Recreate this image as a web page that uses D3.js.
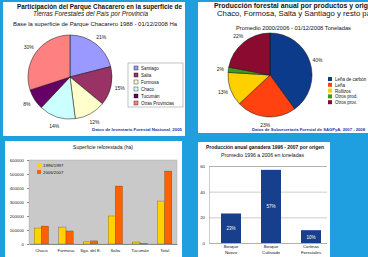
<!DOCTYPE html>
<html>
<head>
<meta charset="utf-8">
<script src="https://cdn.jsdelivr.net/npm/d3@7"></script>
<style>
    html, body { margin: 0; padding: 0; background: #1f9fe0; overflow: hidden; }
    svg { display: block; font-family: "Liberation Sans", Arial, sans-serif; }
</style>
</head>
<body>
<div id="chart"></div>
<script>
'use strict';

// Data - top left pie (provinces)
const provLabels = ['Santiago', 'Salta', 'Formosa', 'Chaco', 'Tucumán', 'Otras Provincias'];
const provValues = [21, 15, 12, 14, 8, 30];

// Data - top right pie (products)
const prodLabels = ['Leña de carbón', 'Leña', 'Rollizos', 'Otros prod.', 'Otros prov.'];
const prodValues = [40, 23, 13, 2, 22];

// Data - bottom left bars
const barCats = ['Chaco', 'Formosa', 'Sgo. del E.', 'Salta', 'Tucumán', 'Total'];
const barSeries = ['1996/1997', '2006/2007'];
const bars1997 = [114000, 121000, 15000, 200000, 14000, 307000];
const bars2007 = [128000, 93000, 22000, 414000, 3000, 521000];

// Data - bottom right bars
const originCats = ['Bosque Nativo', 'Bosque Cultivado', 'Cortinas Forestales'];
const originValues = [23, 57, 10];

const W = 368, H = 257;
const svg = d3.select('#chart').append('svg').attr('width', W).attr('height', H);

// Panels
const panels = [[3, 2, 182, 134], [198, 2, 172, 131], [5, 141, 177, 118], [198, 142, 132, 117]];
svg.selectAll('rect.panel').data(panels).join('rect')
    .attr('class', 'panel')
    .attr('x', d => d[0]).attr('y', d => d[1])
    .attr('width', d => d[2]).attr('height', d => d[3])
    .attr('fill', '#fff');

// small text helper
function txt(x, y, s, size, o = {}) {
    const t = svg.append('text')
        .attr('x', x).attr('y', y)
        .attr('font-size', size)
        .attr('fill', o.fill || '#111')
        .attr('text-anchor', o.anchor || 'start')
        .attr('font-weight', o.bold ? 'bold' : null)
        .attr('font-style', o.italic ? 'italic' : null)
        .text(s);
    if (o.len) t.attr('textLength', o.len).attr('lengthAdjust', 'spacingAndGlyphs');
    return t;
}

// Pie helper
function pie(cx, cy, r, values, colors, labelR) {
    const arcs = d3.pie().sort(null)(values);
    const arc = d3.arc().innerRadius(0).outerRadius(r);
    const lab = d3.arc().innerRadius(labelR).outerRadius(labelR);
    const g = svg.append('g').attr('transform', `translate(${cx},${cy})`);
    g.selectAll('path').data(arcs).join('path')
        .attr('d', arc)
        .attr('fill', (d, i) => colors[i])
        .attr('stroke', '#111')
        .attr('stroke-width', 0.5);
    g.selectAll('text').data(arcs).join('text')
        .attr('x', d => lab.centroid(d)[0])
        .attr('y', d => lab.centroid(d)[1] + 2)
        .attr('text-anchor', 'middle')
        .attr('font-size', 5)
        .attr('fill', '#222')
        .text(d => d.data + '%');
}

// ---- Top left ----
txt(17, 9, 'Participación del Parque Chacarero en la superficie de', 6.5, {bold: true, len: 165});
txt(33, 16, 'Tierras Forestales del País por Provincia', 6.5, {italic: true, len: 115});
txt(13, 26, 'Base la superficie de Parque Chacarero 1988 - 01/12/2008 Ha', 4.5, {len: 164});
const provColors = ['#9999ff', '#993366', '#ffffcc', '#ccffff', '#660066', '#ff8080'];
pie(70, 77, 42, provValues, provColors, 51);

svg.append('rect').attr('x', 128).attr('y', 63).attr('width', 55).attr('height', 44)
    .attr('fill', '#fff').attr('stroke', '#888').attr('stroke-width', 0.5);
provLabels.forEach((l, i) => {
    svg.append('rect').attr('x', 134).attr('y', 66 + i * 7).attr('width', 4).attr('height', 4)
        .attr('fill', provColors[i]).attr('stroke', '#111').attr('stroke-width', 0.4);
    txt(141, 70 + i * 7, l, 4.5);
});
txt(182, 131, 'Datos de Inventario Forestal Nacional, 2005', 4.3, {bold: true, fill: '#2233aa', anchor: 'end', len: 90});

// ---- Top right ----
txt(214, 8, 'Producción forestal anual por productos y origen', 6.5, {bold: true, len: 162});
txt(217, 16, 'Chaco, Formosa, Salta y Santiago y resto país', 6.5, {len: 160});
txt(236, 30, 'Promedio 2000/2006 - 01/12/2008 Toneladas', 4.5, {len: 115});
const prodColors = ['#0d3b8c', '#ff4210', '#ffd000', '#3c9a1e', '#8a0a30'];
pie(270, 75, 42, prodValues, prodColors, 50);
prodLabels.forEach((l, i) => {
    svg.append('rect').attr('x', 328).attr('y', 77 + i * 5.8).attr('width', 4).attr('height', 4)
        .attr('fill', prodColors[i]);
    txt(335, 81 + i * 5.8, l, 4.5);
});
txt(252, 131, 'Datos de Subsecretaría Forestal de SAGPyA, 2007 - 2008', 4.3, {bold: true, fill: '#2233aa', len: 113});

// ---- Bottom left: grouped bars ----
const bx = d3.scaleBand().domain(barCats).range([29, 177]).paddingInner(0.42).paddingOuter(0.21);
const bxs = d3.scaleBand().domain(barSeries).range([0, bx.bandwidth()]);
const by = d3.scaleLinear().domain([0, 600000]).range([244, 160]);

txt(103, 149, 'Superficie reforestada (ha)', 5, {anchor: 'middle', len: 60});
svg.append('rect').attr('x', 29).attr('y', 160).attr('width', 148).attr('height', 84)
    .attr('fill', '#c9c9c9').attr('stroke', '#aaa').attr('stroke-width', 0.5);

svg.append('g').attr('transform', 'translate(29,0)')
    .call(d3.axisLeft(by).ticks(6).tickSize(2).tickFormat(d3.format('d')))
    .call(g => g.select('.domain').remove())
    .call(g => g.selectAll('line').attr('stroke', '#888'))
    .call(g => g.selectAll('text').attr('font-size', 4.3).attr('fill', '#222')
        .attr('font-family', '"Liberation Sans", Arial, sans-serif'));

const seriesData = [bars1997, bars2007];
const barColors = ['#ffd200', '#ff6000'];
seriesData.forEach((vals, s) => {
    svg.append('g').selectAll('rect').data(vals).join('rect')
        .attr('x', (d, i) => bx(barCats[i]) + bxs(barSeries[s]))
        .attr('y', d => by(d))
        .attr('width', bxs.bandwidth())
        .attr('height', d => by(0) - by(d))
        .attr('fill', barColors[s])
        .attr('stroke', '#5a3a00').attr('stroke-width', 0.3);
});

svg.append('g').attr('transform', 'translate(0,244)')
    .call(d3.axisBottom(bx).tickSize(0).tickPadding(5))
    .call(g => g.select('.domain').attr('stroke', '#888'))
    .call(g => g.selectAll('text').attr('font-size', 4.3).attr('fill', '#222')
        .attr('font-family', '"Liberation Sans", Arial, sans-serif'));

barSeries.forEach((l, i) => {
    svg.append('rect').attr('x', 37).attr('y', 163 + i * 7).attr('width', 4).attr('height', 4)
        .attr('fill', barColors[i]);
    txt(43, 167 + i * 7, l, 4.3);
});

// ---- Bottom right: origin bars ----
txt(206, 149, 'Producción anual ganadera 1996 - 2007 por origen', 5.5, {bold: true, len: 118});
txt(221, 157, 'Promedio 1996 a 2006 en toneladas', 4.5, {len: 83});

const ox = d3.scaleBand().domain(originCats).range([211, 331]).paddingInner(0.5).paddingOuter(0.25);
const oy = d3.scaleLinear().domain([0, 60]).range([243, 166]);

svg.append('g').attr('transform', 'translate(209,0)')
    .call(d3.axisLeft(oy).ticks(3).tickSize(-118).tickFormat(d3.format('d')))
    .call(g => g.select('.domain').attr('stroke', '#999').attr('stroke-width', 0.5))
    .call(g => g.selectAll('line').attr('stroke', '#999').attr('stroke-width', 0.5))
    .call(g => g.selectAll('text').attr('font-size', 4.3).attr('fill', '#222').attr('dx', -1)
        .attr('font-family', '"Liberation Sans", Arial, sans-serif'));

svg.append('g').selectAll('rect').data(originValues).join('rect')
    .attr('x', (d, i) => ox(originCats[i]))
    .attr('y', d => oy(d))
    .attr('width', ox.bandwidth())
    .attr('height', d => oy(0) - oy(d))
    .attr('fill', '#173f8c');

svg.append('g').selectAll('text').data(originValues).join('text')
    .attr('x', (d, i) => ox(originCats[i]) + ox.bandwidth() / 2)
    .attr('y', d => (oy(d) + oy(0)) / 2 + 2)
    .attr('text-anchor', 'middle')
    .attr('font-size', 4.5)
    .attr('fill', '#fff')
    .text(d => d + '%');

originCats.forEach((c, i) => {
    const parts = c.split(' ');
    const cx = ox(c) + ox.bandwidth() / 2;
    txt(cx, 248, parts[0], 4.3, {anchor: 'middle'});
    txt(cx, 254, parts[1], 4.3, {anchor: 'middle'});
});
</script>
</body>
</html>
